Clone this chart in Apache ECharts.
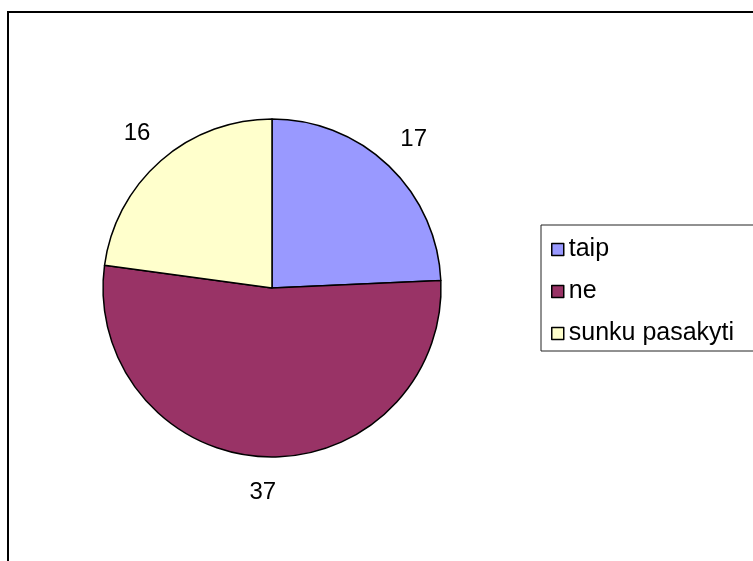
<!DOCTYPE html>
<html>
<head>
<meta charset="utf-8">
<script src="https://cdn.jsdelivr.net/npm/echarts@6/dist/echarts.min.js"></script>
<style>
  html, body { margin: 0; padding: 0; background: #fff; }
  #chart { width: 753px; height: 561px; }
</style>
</head>
<body>
<div id="chart"></div>
<script>
  // answers and counts
  const categories = ['taip', 'ne', 'sunku pasakyti'];
  const counts = [17, 37, 16];
  const colors = ['#9999FF', '#993366', '#FFFFCC'];

  const pieData = categories.map((name, i) => ({
    name: name,
    value: counts[i],
    itemStyle: { color: colors[i] }
  }));

  const chart = echarts.init(document.getElementById('chart'));
  chart.setOption({
    animation: false,
    textStyle: { fontFamily: 'Liberation Sans, Arial, sans-serif' },
    graphic: [
      {
        type: 'rect',
        shape: { x: 8, y: 12, width: 800, height: 600 },
        style: { fill: 'none', stroke: '#000', lineWidth: 2 },
        z: -10
      }
    ],
    legend: {
      orient: 'vertical',
      left: 541,
      top: 225,
      padding: [12, 40, 5, 10],
      itemGap: 17,
      itemWidth: 12,
      itemHeight: 12,
      icon: 'rect',
      borderColor: '#222',
      borderWidth: 1,
      textStyle: { fontSize: 25, color: '#000', fontFamily: 'Liberation Sans, Arial, sans-serif' },
      itemStyle: { borderColor: '#000', borderWidth: 1.5 },
      data: categories
    },
    series: [
      {
        type: 'pie',
        center: [272, 288],
        radius: 169,
        startAngle: 90,
        clockwise: true,
        silent: true,
        itemStyle: { borderColor: '#000', borderWidth: 1.5 },
        label: { show: false },
        labelLine: { show: false },
        data: pieData
      },
      {
        // transparent ring only used to place value labels outside the pie
        type: 'pie',
        center: [272, 288],
        radius: [169, 235],
        startAngle: 90,
        clockwise: true,
        silent: true,
        legendHoverLink: false,
        itemStyle: { color: 'transparent', borderWidth: 0 },
        label: {
          show: true,
          position: 'inside',
          formatter: '{c}',
          fontSize: 24,
          color: '#000',
          fontFamily: 'Liberation Sans, Arial, sans-serif'
        },
        labelLine: { show: false },
        data: categories.map((name, i) => ({ name: name + ' ', value: counts[i] }))
      }
    ]
  });
</script>
</body>
</html>
